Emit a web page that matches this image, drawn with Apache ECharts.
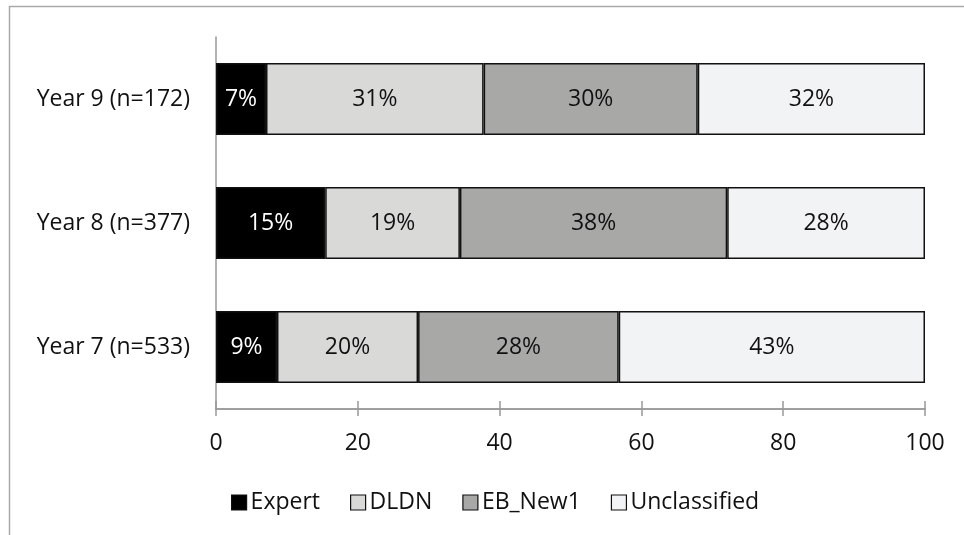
<!DOCTYPE html>
<html>
<head>
<meta charset="utf-8">
<script src="https://cdn.jsdelivr.net/npm/echarts@6/dist/echarts.min.js"></script>
<style>
  html, body { margin: 0; padding: 0; background: #fff; }
  #main { width: 964px; height: 535px; }
</style>
</head>
<body>
<div id="main"></div>
<script>
var categories = ['Year 7 (n=533)', 'Year 8 (n=377)', 'Year 9 (n=172)'];
var seriesNames = ['Expert', 'DLDN', 'EB_New1', 'Unclassified'];
var expert = [8.6, 15.4, 7.05];
var dldn = [19.9, 19.0, 30.7];
var ebNew1 = [28.3, 37.7, 30.2];
var unclassified = [43.2, 27.9, 32.05];
var xTicks = [0, 20, 40, 60, 80, 100];

var FONT = 'Open Sans';
var FS = 23;
var colors = ['#000000', '#d9d9d8', '#a8a8a7', '#f2f3f5'];
var labelColors = ['#ffffff', '#111', '#111', '#111'];
var values = [expert, dldn, ebNew1, unclassified];

var main = document.getElementById('main');
var myChart = echarts.init(main);

var series = seriesNames.map(function (name, i) {
    return {
        name: name,
        type: 'bar',
        stack: 'total',
        barWidth: 72,
        xAxisIndex: 0,
        itemStyle: { color: colors[i], borderColor: '#111', borderWidth: 1.5 },
        label: {
            show: true,
            position: 'inside',
            color: labelColors[i],
            fontFamily: FONT,
            fontSize: FS,
            formatter: function (p) { return Math.round(p.value) + '%'; }
        },
        data: values[i]
    };
});

var axisBase = {
    type: 'value',
    min: xTicks[0],
    max: xTicks[xTicks.length - 1],
    interval: 20,
    position: 'bottom',
    splitLine: { show: false },
    axisLine: { show: true, lineStyle: { color: '#999', width: 1.5 } }
};

myChart.setOption({
    animation: false,
    backgroundColor: '#fff',
    textStyle: { fontFamily: FONT },
    graphic: [{
        type: 'rect',
        shape: { x: 9.5, y: 6.5, width: 1000, height: 600 },
        style: { fill: 'none', stroke: '#aaa', lineWidth: 1.5 },
        silent: true
    }],
    grid: { left: 216, right: 39, top: 37, bottom: 126 },
    legend: {
        data: seriesNames,
        left: 226,
        top: 486,
        itemWidth: 15,
        itemHeight: 15,
        itemGap: 30,
        icon: 'rect',
        textStyle: { fontFamily: FONT, fontSize: FS, color: '#111', padding: [0, 0, 0, -1] },
        itemStyle: { borderColor: '#111', borderWidth: 1.2 }
    },
    xAxis: [
        Object.assign({}, axisBase, {
            axisTick: { show: true, inside: false, length: 7, lineStyle: { color: '#999', width: 1.5 } },
            axisLabel: { fontFamily: FONT, fontSize: FS, color: '#111', margin: 23 }
        }),
        Object.assign({}, axisBase, {
            axisTick: { show: true, inside: true, length: 8, lineStyle: { color: '#999', width: 1.5 } },
            axisLabel: { show: false }
        })
    ],
    yAxis: {
        type: 'category',
        data: categories,
        axisLine: { show: true, lineStyle: { color: '#999', width: 1.5 } },
        axisTick: { show: false },
        axisLabel: { fontFamily: FONT, fontSize: FS, color: '#111', margin: 26 }
    },
    series: series
});
</script>
</body>
</html>
